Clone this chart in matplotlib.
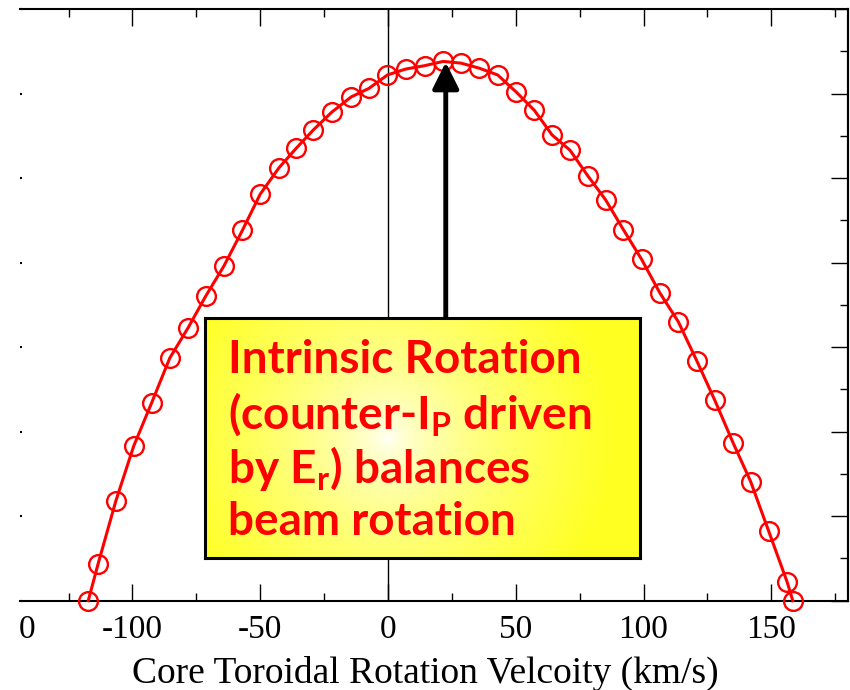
import numpy as np
import matplotlib
matplotlib.use('Agg')
from matplotlib import pyplot as plt
from matplotlib.ticker import MultipleLocator

# values
velocity = [-117.3, -113.4, -106.5, -99.5, -92.5, -85.4, -78.2, -71.2, -64.2, -57.0,
            -50.0, -42.7, -36.0, -29.2, -22.0, -14.4, -7.5, -0.2, 7.0, 14.4,
            21.6, 28.5, 35.7, 42.9, 50.1, 57.3, 64.2, 71.2, 78.1, 85.2,
            92.1, 99.2, 106.4, 113.6, 120.8, 127.9, 135.0, 141.9, 149.0, 156.2, 158.4]
profile = [0.0, 0.44, 1.18, 1.83, 2.34, 2.87, 3.23, 3.61, 3.96, 4.38,
           4.81, 5.12, 5.35, 5.57, 5.78, 5.96, 6.06, 6.22, 6.29, 6.33,
           6.38, 6.36, 6.30, 6.22, 6.02, 5.80, 5.51, 5.33, 5.03, 4.74,
           4.39, 4.04, 3.64, 3.30, 2.84, 2.37, 1.87, 1.41, 0.82, 0.22, 0.0]
x_ticks = [-100, -50, 0, 50, 100, 150]
x_tick_labels = ['-100', '-50', '0', '50', '100', '150']
# only the last digit of the leftmost label shows in the reference
edge_label = '0'
box_lines = ['Intrinsic Rotation',
             r'(counter-I$_\mathbf{P}$ driven',
             r'by E$_\mathbf{r}$) balances',
             'beam rotation']

plt.rcParams['mathtext.fontset'] = 'custom'
plt.rcParams['mathtext.bf'] = 'Lato:bold'
plt.rcParams['mathtext.rm'] = 'Lato:bold'

fig = plt.figure(figsize=(8.5, 6.9), dpi=100)
ax = fig.add_axes([20/850, 1 - 600.7/690, 828/850, 591.7/690])

ax.axvline(0, color='black', lw=1, zorder=1)
ax.plot(velocity, profile, color='red', lw=2.2, marker='o', ms=13.5,
        mfc='none', mec='red', mew=1.7, clip_on=False, zorder=3)

ax.set_xlim(-144, 180)
ax.set_ylim(0, 7)

for side in ['top', 'right', 'bottom']:
    ax.spines[side].set_linewidth(1.5)
ax.spines['left'].set_visible(False)

ax.set_xticks(x_ticks)
ax.set_xticklabels(x_tick_labels)
ax.xaxis.set_minor_locator(MultipleLocator(25))
ax.tick_params(axis='x', which='major', direction='in', length=12, width=1,
               top=True, bottom=True, pad=10)
ax.tick_params(axis='x', which='minor', direction='in', length=6, width=1,
               top=True, bottom=True)
for lab in ax.get_xticklabels():
    lab.set_fontfamily('Liberation Serif')
    lab.set_fontsize(24)
ax.annotate(edge_label, xy=(-141.3, 0), xycoords=('data', 'axes fraction'),
            xytext=(0, -10), textcoords='offset points', ha='center', va='top',
            family='Liberation Serif', fontsize=24, annotation_clip=False)

ax.yaxis.set_major_locator(MultipleLocator(1))
ax.tick_params(axis='y', which='major', direction='in', length=1.5, width=1.5,
               left=True, right=False, labelleft=False)
ax.tick_params(axis='y', which='minor', left=False)

ry = ax.secondary_yaxis('right')
ry.yaxis.set_major_locator(MultipleLocator(1))
ry.yaxis.set_minor_locator(MultipleLocator(0.5))
ry.tick_params(which='major', direction='in', length=12, width=1, labelright=False)
ry.tick_params(which='minor', direction='in', length=6, width=1)
ry.spines['right'].set_linewidth(1.5)

ax.set_xlabel('Core Toroidal Rotation Velcoity (km/s)', family='Liberation Serif',
              fontsize=27, labelpad=8)
ax.xaxis.label.set_x(0.49)

ax.annotate('', xy=(22.6, 6.37), xytext=(22.6, 3.3),
            arrowprops=dict(arrowstyle='-|>', lw=3.5, color='black',
                            mutation_scale=40, shrinkA=0, shrinkB=0),
            zorder=4)

# yellow box with a pale centre
bx = fig.add_axes([205/850, 1 - 558/690, 435/850, 240/690])
gx, gy = np.meshgrid(np.linspace(0, 1, 300), np.linspace(0, 1, 200))
d = np.sqrt(((gx - 0.42) * 435) ** 2 + ((gy - 0.5) * 240) ** 2) / 230
t = np.clip(d, 0, 1) ** 0.6
white = np.array([1.0, 1.0, 1.0])
yellow = np.array([1.0, 1.0, 0.13])
img = white + (yellow - white) * t[..., None]
bx.imshow(img, extent=[0, 1, 0, 1], aspect='auto', origin='lower')
bx.set_xticks([])
bx.set_yticks([])
for s in bx.spines.values():
    s.set_linewidth(2.2)

baselines = [373, 428, 483, 535]
for line, by in zip(box_lines, baselines):
    fig.text(228/850, 1 - by/690, line, color='red', family='Lato',
             weight='bold', fontsize=33, ha='left', va='baseline')

fig.savefig('out.png', dpi=100)
